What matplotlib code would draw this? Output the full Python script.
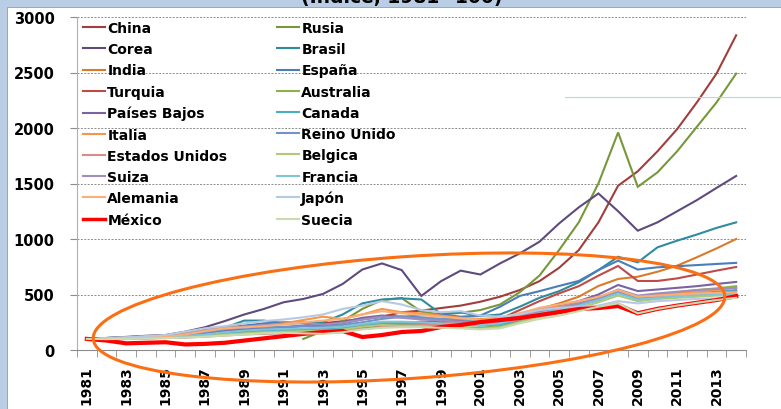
import numpy as np
import matplotlib
matplotlib.use("Agg")
import matplotlib.pyplot as plt
from matplotlib.patches import Ellipse, Rectangle
from matplotlib.lines import Line2D
from matplotlib.transforms import IdentityTransform

years = list(range(1981, 2015))
nan = np.nan

# indices 1981=100
china = [100, 108, 115, 125, 130, 140, 150, 160, 170, 185, 200, 220, 240, 260, 280, 300, 340, 355, 378, 400, 435, 480, 540, 620, 740, 900, 1150, 1480, 1610, 1790, 1990, 2230, 2490, 2835]
rusia = [nan] * 11 + [100, 170, 260, 370, 450, 468, 345, 320, 335, 360, 410, 520, 670, 900, 1150, 1500, 1960, 1470, 1600, 1790, 2010, 2230, 2490]
corea = [100, 108, 118, 128, 135, 165, 205, 260, 320, 370, 430, 460, 505, 595, 725, 780, 720, 487, 620, 715, 680, 780, 870, 975, 1140, 1285, 1410, 1250, 1075, 1150, 1250, 1350, 1460, 1568]
brasil = [100, 105, 110, 118, 125, 150, 180, 200, 265, 265, 240, 250, 250, 320, 420, 455, 465, 455, 325, 340, 305, 320, 390, 470, 530, 610, 720, 840, 790, 925, 985, 1040, 1100, 1150]
india = [100, 102, 108, 112, 118, 125, 135, 150, 160, 170, 165, 175, 185, 200, 215, 225, 230, 235, 245, 255, 265, 285, 320, 370, 420, 480, 577, 640, 660, 705, 760, 835, 915, 1000]
espana = [100, 108, 115, 120, 130, 155, 180, 200, 220, 240, 250, 250, 225, 240, 275, 300, 300, 310, 320, 300, 310, 390, 487, 530, 577, 622, 720, 805, 725, 745, 755, 765, 775, 785]
turquia = [100, 95, 100, 105, 110, 115, 130, 140, 150, 170, 175, 185, 195, 180, 200, 220, 240, 255, 250, 270, 235, 280, 360, 440, 510, 575, 670, 757, 622, 622, 645, 680, 715, 748]
australia = [100, 102, 105, 110, 115, 120, 130, 145, 155, 165, 175, 180, 185, 200, 230, 250, 250, 230, 215, 205, 200, 215, 260, 320, 370, 410, 470, 540, 480, 500, 520, 540, 555, 575]
paises_bajos = [100, 105, 110, 115, 120, 140, 160, 175, 185, 195, 205, 215, 225, 250, 290, 310, 300, 285, 280, 285, 270, 280, 320, 370, 400, 440, 500, 586, 531, 545, 560, 575, 595, 613]
canada = [100, 103, 108, 112, 118, 125, 135, 150, 160, 170, 175, 180, 185, 195, 215, 235, 240, 235, 225, 230, 220, 230, 270, 320, 360, 400, 450, 520, 460, 480, 495, 510, 525, 540]
italia = [100, 105, 112, 120, 130, 150, 175, 200, 210, 220, 240, 270, 300, 280, 320, 370, 340, 330, 310, 290, 280, 290, 330, 370, 390, 420, 470, 530, 480, 495, 510, 525, 540, 560]
reino_unido = [100, 104, 110, 118, 128, 140, 160, 185, 200, 205, 210, 215, 210, 225, 250, 280, 300, 290, 280, 275, 260, 270, 310, 350, 380, 410, 460, 520, 460, 475, 490, 505, 520, 530]
estados_unidos = [100, 95, 98, 105, 110, 112, 120, 130, 140, 145, 150, 160, 170, 180, 190, 205, 215, 225, 235, 245, 240, 250, 275, 300, 330, 355, 390, 420, 340, 380, 400, 430, 460, 490]
belgica = [100, 100, 102, 105, 108, 115, 125, 140, 150, 160, 165, 170, 175, 185, 210, 225, 220, 215, 205, 200, 190, 205, 250, 300, 340, 380, 430, 490, 440, 460, 470, 480, 490, 500]
suiza = [100, 105, 112, 120, 128, 145, 170, 195, 210, 225, 235, 240, 230, 245, 275, 300, 290, 275, 265, 255, 245, 260, 300, 345, 380, 420, 470, 545, 490, 510, 525, 540, 550, 560]
francia = [100, 102, 106, 110, 115, 125, 140, 160, 175, 185, 190, 195, 200, 210, 235, 255, 255, 250, 240, 235, 225, 240, 285, 330, 365, 400, 450, 510, 455, 470, 485, 495, 505, 510]
alemania = [100, 105, 110, 115, 120, 140, 170, 195, 205, 215, 230, 250, 265, 280, 320, 350, 330, 315, 300, 285, 270, 285, 330, 380, 410, 440, 480, 540, 480, 490, 500, 510, 515, 520]
japon = [100, 108, 115, 125, 135, 165, 195, 215, 240, 260, 275, 295, 320, 370, 400, 440, 410, 360, 340, 350, 310, 300, 320, 360, 380, 390, 400, 440, 420, 440, 450, 460, 465, 470]
mexico = [100, 85, 60, 65, 70, 50, 55, 65, 85, 105, 125, 145, 162, 171, 117, 135, 162, 171, 207, 225, 252, 270, 288, 315, 342, 369, 378, 396, 330, 370, 400, 425, 450, 485]
suecia = [100, 98, 100, 103, 107, 112, 120, 130, 140, 150, 155, 150, 145, 160, 185, 200, 205, 205, 200, 195, 185, 195, 240, 280, 310, 350, 390, 420, 330, 370, 400, 425, 450, 470]

# legend order is row-wise: China, Rusia / Corea, Brasil / ...
names = ['China', 'Rusia', 'Corea', 'Brasil', 'India', 'España', 'Turquia', 'Australia',
         'Países Bajos', 'Canada', 'Italia', 'Reino Unido', 'Estados Unidos', 'Belgica',
         'Suiza', 'Francia', 'Alemania', 'Japón', 'México', 'Suecia']
series = [china, rusia, corea, brasil, india, espana, turquia, australia, paises_bajos, canada,
          italia, reino_unido, estados_unidos, belgica, suiza, francia, alemania, japon, mexico, suecia]
colors = ['#A13E3B', '#77983A', '#5F4A7D', '#2E8BA0', '#D97B2B', '#4A7EBB', '#BE4B48', '#8CB04A',
          '#7B62A0', '#4BACC6', '#F79646', '#7094C8', '#D98B89', '#AFC97A', '#A08EBE', '#7FC4D8',
          '#FAAF78', '#B7C9E3', '#FF0000', '#C9DBAF']

W, H = 781, 410
fig = plt.figure(figsize=(W / 100, H / 100), dpi=100)
fig.patch.set_facecolor('#B9CDE5')
fig.add_artist(Rectangle((7 / W, 0), 1, (H - 8) / H, transform=fig.transFigure,
                         facecolor='white', edgecolor='#9a9a9a', linewidth=0.6, zorder=0))

ax = fig.add_axes([77 / W, (H - 351) / H, (746 - 77) / W, (351 - 18) / H])
ax.set_facecolor('none')
x = np.arange(len(years))
handles = []
for name, vals, c in zip(names, series, colors):
    lw = 3.0 if name == 'México' else 1.5
    h, = ax.plot(x, vals, color=c, lw=lw, label=name, solid_joinstyle='miter')
    handles.append(h)

ax.set_xlim(-0.5, len(years) - 0.5)
ax.set_ylim(0, 3000)
ax.set_yticks(range(0, 3001, 500))
ax.set_xticks(x[::2])
ax.set_xticklabels([str(y) for y in years[::2]], rotation=90, fontweight='bold', fontsize=10)
ax.set_xticks(np.arange(-0.5, len(years)), minor=True)
ax.tick_params(axis='x', which='major', length=0, pad=11)
ax.tick_params(axis='x', which='minor', length=5, color='#8c8c8c')
ax.tick_params(axis='y', length=5, color='#8c8c8c', pad=11, labelsize=10.5)
for t in ax.get_yticklabels():
    t.set_fontweight('bold')
ax.yaxis.grid(True, color='#8c8c8c', linestyle=(0, (2, 1.5)), linewidth=0.7)
ax.set_axisbelow(True)
for s in ['top', 'right']:
    ax.spines[s].set_visible(False)
ax.spines['left'].set_color('#b0b0b0')
ax.spines['bottom'].set_color('#8c8c8c')

# two legend columns, placed by hand
col1 = handles[0::2]
col2 = handles[1::2]
kw = dict(loc='upper left', frameon=False, borderpad=0, borderaxespad=0, handlelength=1.6,
          handletextpad=0.15, labelspacing=0.52, prop={'weight': 'bold', 'size': 10},
          bbox_transform=fig.transFigure)
leg1 = ax.legend(handles=col1, bbox_to_anchor=(83 / W, 1 - 22 / H), **kw)
ax.add_artist(leg1)
leg2 = ax.legend(handles=col2, bbox_to_anchor=(277 / W, 1 - 22 / H), **kw)
for lg in (leg1, leg2):
    for ln in lg.get_lines():
        ln.set_linewidth(2.5 if ln.get_color() == '#FF0000' else 1.5)

# title is cut at the top edge in the original
fig.text(402 / W, 1 - 3 / H, '(Índice, 1981=100)', ha='center', va='baseline',
         fontsize=13.5, fontweight='bold')

# orange ellipse highlight, in pixel coordinates
fig.add_artist(Ellipse((409, H - 318.5), 633, 122, angle=3.9, transform=IdentityTransform(),
                       fill=False, edgecolor='#FA6E14', linewidth=2.2, zorder=10))
fig.add_artist(Line2D([565 / W, 1], [1 - 98 / H, 1 - 98 / H], transform=fig.transFigure,
                      color='#A9DDE3', linewidth=0.8))

fig.savefig('out.png', dpi=100)
